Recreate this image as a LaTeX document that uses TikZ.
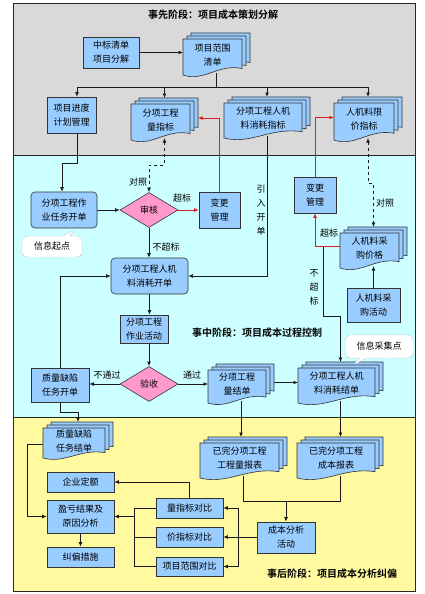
\documentclass[tikz,border=0pt]{standalone}
\usepackage{fontspec}
\setmainfont{Noto Sans CJK SC}[BoldFont={Noto Sans CJK SC Bold}]
\usetikzlibrary{arrows.meta,shapes.geometric,shapes.callouts,calc}
\definecolor{boxblue}{RGB}{153,204,255}
\definecolor{pinkc}{RGB}{255,153,204}
\definecolor{graybg}{RGB}{217,217,217}
\definecolor{cyanbg}{RGB}{204,255,255}
\definecolor{yellowbg}{RGB}{255,250,160}
\definecolor{redc}{RGB}{220,30,30}
\pgfdeclarelayer{bg}
\pgfdeclarelayer{edges}
\pgfsetlayers{bg,edges,main}
\newcommand{\boxfont}{\fontsize{9}{14}\selectfont}
\newcommand{\mybox}[7]{\node[#2,minimum width={#5-#3},minimum height={#6-#4}] (#1) at ({(#3+#5)/2},{(#4+#6)/2}) {#7};}
\newcommand{\docstack}[6]{%
  \foreach \o in {8,4,0}{%
    \pgfmathsetmacro\pax{#2+\o}%
    \pgfmathsetmacro\pbx{#4+\o}%
    \pgfmathsetmacro\pay{#3-0.75*\o}%
    \pgfmathsetmacro\pby{#5-0.75*\o}%
    \pgfmathsetmacro\pww{\pbx-\pax}%
    \pgfmathsetmacro\phh{\pby-\pay}%
    \filldraw[docpage] (\pax,\pay) -- (\pbx,\pay) -- (\pbx,{\pby-0.18*\phh}) .. controls ({\pax+0.6*\pww},{\pby-0.32*\phh}) and ({\pax+0.35*\pww},{\pby+0.2*\phh}) .. (\pax,\pby) -- cycle;
  }%
  \node[doctext] (#1-t) at ({(#2+#4)/2},{#3+0.44*(#5-#3)}) {#6};
  \node[inner sep=0pt,outer sep=0pt,minimum width={#4+8-#2},minimum height={#5-#3+4}] (#1) at ({(#2+#4+8)/2},{(#3-6+#5-2)/2}) {};
}
\begin{document}
\begin{tikzpicture}[x=1pt,y=-1pt,
  box/.style={draw=black!80,fill=boxblue,line width=0.6pt,inner sep=1pt,align=center,font=\boxfont},
  rbox/.style={box,rounded corners=4pt},
  docpage/.style={draw=black!80,fill=boxblue,line width=0.6pt},
  doctext/.style={inner sep=0pt,align=center,font=\boxfont},
  dia/.style={diamond,draw=black!80,fill=pinkc,line width=0.6pt,inner sep=0pt,minimum width=58,minimum height=35,font=\boxfont},
  lbl/.style={inner sep=0pt,align=center,font=\fontsize{9}{14}\selectfont},
  ttl/.style={inner sep=0pt,font=\bfseries\fontsize{10}{12}\selectfont},
  callb/.style={rectangle callout,draw=black!55,densely dotted,fill=white,rounded corners=5pt,inner sep=1pt,font=\boxfont},
  ed/.style={draw=black!90,line width=0.75pt},
  arr/.style={ed,-{Latex[length=4.5pt,width=3.8pt]}},
  darr/.style={ed,dashed,{Latex[length=4.5pt,width=3.8pt]}-{Latex[length=4.5pt,width=3.8pt]}},
  rarr/.style={arr,draw=redc}]
\useasboundingbox (0,0) rectangle (425,594);
\begin{pgfonlayer}{bg}
\fill[white] (0,0) rectangle (425,594);
\filldraw[fill=graybg,draw=black!85,line width=0.8pt] (13,3) rectangle (415,155);
\filldraw[fill=cyanbg,draw=black!85,line width=0.8pt] (13,155) rectangle (415,417);
\filldraw[fill=yellowbg,draw=black!85,line width=0.8pt] (13,417) rectangle (415,591);
\end{pgfonlayer}

% titles
\node[ttl] (t1) at (213,15) {事先阶段：项目成本策划分解};
\node[ttl] (t2) at (257,333) {事中阶段：项目成本过程控制};
\node[ttl] (t3) at (332,574) {事后阶段：项目成本分析纠偏};

% top section
\mybox{zb}{box}{83}{37}{139}{68}{中标清单\\项目分解}
\docstack{range}{183}{39}{242}{75}{项目范围\\清单}
\mybox{prog}{box}{47}{97}{96}{133}{项目进度\\计划管理}
\docstack{qty}{131}{104}{190}{140}{分项工程\\量指标}
\docstack{cons}{224}{103}{302}{138}{分项工程人机\\料消耗指标}
\docstack{lim}{334}{103}{394}{140}{人机料限\\价指标}

% middle section
\mybox{task}{rbox}{31}{192}{97}{228}{分项工程作\\业任务开单}
\node[dia] (audit) at (149,210) {审核};
\mybox{chg1}{box}{199}{192}{240}{228}{变更\\管理}
\mybox{open}{rbox}{111}{258}{188}{294}{分项工程人机\\料消耗开单}
\mybox{chg2}{box}{294}{177}{336}{213}{变更\\管理}
\docstack{pprice}{340}{233}{399}{268}{人机料采\\购价格}
\mybox{buy}{box}{347}{288}{400}{322}{人机料采\\购活动}
\mybox{act}{box}{120}{315}{168}{343}{分项工程\\作业活动}
\node[dia] (check) at (149,384) {验收};
\mybox{qtask}{box}{31}{368}{89}{402}{质量缺陷\\任务开单}
\docstack{qjd}{208}{370}{266}{403}{分项工程\\量结单}
\docstack{cjd}{298}{368}{375}{403}{分项工程人机\\料消耗结单}

% bottom section
\docstack{qdef}{43}{428}{105}{458}{质量缺陷\\任务结单}
\docstack{rep1}{200}{443}{279}{478}{已完分项工程\\工程量报表}
\docstack{rep2}{297}{443}{375}{478}{已完分项工程\\成本报表}
\mybox{quota}{box}{47}{472}{114}{492}{企业定额}
\mybox{pl}{box}{47}{500}{114}{533}{盈亏结果及\\原因分析}
\mybox{fix}{box}{47}{547}{114}{567}{纠偏措施}
\mybox{c1}{box}{156}{498}{223}{518}{量指标对比}
\mybox{c2}{box}{156}{527}{223}{547}{价指标对比}
\mybox{c3}{box}{156}{557}{223}{576}{项目范围对比}
\mybox{ana}{box}{257}{522}{315}{553}{成本分析\\活动}

% callouts
\node[callb,minimum width=60,minimum height=21,callout absolute pointer={(76,229)}] (start) at (52,246.5) {信息起点};
\node[callb,minimum width=68,minimum height=23,callout absolute pointer={(352,366)}] (collect) at (379,346.5) {信息采集点};

% labels
\node[lbl] (l1) at (138,182) {对照};
\node[lbl] (l2) at (182,198) {超标};
\node[lbl] (l3) at (166,247) {不超标};
\node[lbl] (l4) at (261,210) {引\\入\\开\\单};
\node[lbl] (l5) at (385,203) {对照};
\node[lbl] (l6) at (329,233) {超标};
\node[lbl] (l7) at (314,287) {不\\超\\标};
\node[lbl] (l8) at (107,375) {不通过};
\node[lbl] (l9) at (192,375) {通过};

\coordinate (pt) at ([xshift=5.5pt]prog.north);
\coordinate (pb) at ([xshift=5.5pt]prog.south);
\coordinate (tt) at ([xshift=-2pt]task.north);
\coordinate (qw) at ([yshift=-5pt]qdef.west);

\begin{pgfonlayer}{edges}
% top
\draw[arr] (zb.east) -- (zb.east -| range.west);
\draw[ed] (range.south) -- ++(0,14) coordinate (sp);
\draw[ed] (pt |- sp) -- (lim.north |- sp);
\draw[arr] (pt |- sp) -- (pt);
\draw[arr] (qty.north |- sp) -- (qty.north);
\draw[arr] (cons.north |- sp) -- (cons.north);
\draw[arr] (lim.north |- sp) -- (lim.north);
\draw[rarr] (chg1.north) |- (qty.east);
\draw[rarr] (chg2.north) |- (lim.west);
\draw[darr] (qty.south) -- ++(0,27) -| (audit.north);
\draw[darr] (lim.south) -- ++(0,45) -| (pprice.north);
% middle
\draw[arr] (pb) -- ++(0,30) -| (tt);
\draw[arr] (task.east) -- (audit.west);
\draw[rarr] (audit.east) -- (chg1.west);
\draw[arr] (audit.south) -- (audit.south |- open.north);
\draw[arr] (cons.south) |- (open.east);
\draw[arr] (qtask.north) |- (open.west);
\draw[rarr] (pprice.west) -| (chg2.south);
\draw[arr] ($(pprice.west)+(-17,0)$) -- ++(0,70) -| (cjd.north);
\draw[arr] (buy.north) -- (buy.north |- pprice.south);
\draw[arr] (open.south) -- (open.south |- act.north);
\draw[arr] (check.north |- act.south) -- (check.north);
\draw[arr] (check.west) -- (check.west -| qtask.east);
\draw[arr] (check.east) -- (check.east -| qjd.west);
\draw[arr] (qjd.east) -- (qjd.east -| cjd.west);
% bottom
\draw[arr] (qtask.south) -- ++(0,10) -| (qdef.north);
\draw[arr] (qw) -- ++(-16,0) |- (pl.west);
\draw[arr] (pl.south) -- (fix.north);
\draw[arr] (c1.north) |- (quota.east);
\draw[ed] (c1.west) -- ++(-21,0) coordinate (lb) |- (c3.west);
\draw[ed] (c2.west) -- (c2.west -| lb);
\draw[arr] (pl.east -| lb) -- (pl.east);
\draw[ed] (ana.west) -- ++(-18,0) coordinate (rb);
\draw[ed] (rb |- c1.east) -- (rb |- c3.east);
\draw[arr] (rb |- c1.east) -- (c1.east);
\draw[arr] (rb |- c2.east) -- (c2.east);
\draw[arr] (rb |- c3.east) -- (c3.east);
\draw[arr] (qjd.south) -- (qjd.south |- rep1.north);
\draw[arr] (cjd.south) -- (cjd.south |- rep2.north);
\draw[ed] (rep1.south) -- ++(0,25) coordinate (mg) -| (rep2.south);
\draw[arr] (mg -| ana.north) -- (ana.north);
\end{pgfonlayer}
\end{tikzpicture}
\end{document}
